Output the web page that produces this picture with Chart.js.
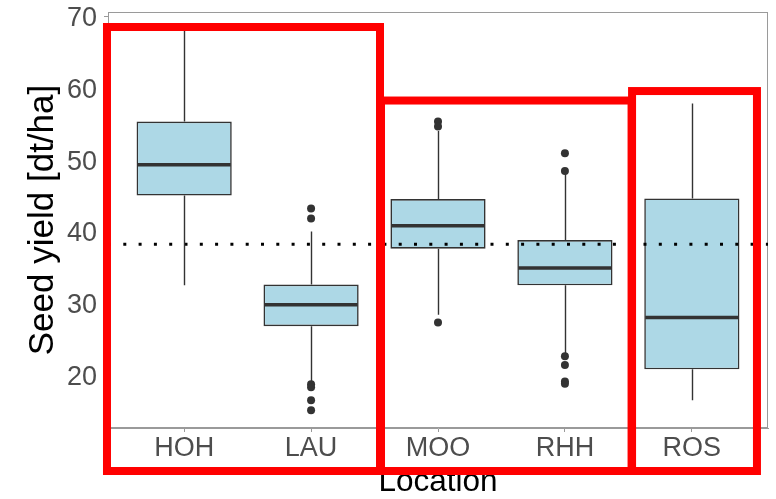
<!DOCTYPE html>
<html>
<head>
<meta charset="utf-8">
<script src="https://cdn.jsdelivr.net/npm/chart.js@4"></script>
<style>
  html, body { margin: 0; padding: 0; background: #fff; }
  #wrap { width: 776px; height: 499px; position: relative; }
</style>
</head>
<body>
<div id="wrap"><canvas id="chart"></canvas></div>
<script>
// Seed yield per location
var locations = ['HOH', 'LAU', 'MOO', 'RHH', 'ROS'];
var whiskerLow = [32.5, 19.0, 28.4, 23.0, 16.5];
var q1 = [45.0, 26.8, 37.6, 32.5, 20.8];
var medians = [49.3, 29.8, 40.8, 34.9, 28.0];
var q3 = [55.3, 32.6, 44.5, 38.8, 44.6];
var whiskerHigh = [68.0, 40.0, 54.0, 48.0, 57.8];

// outliers: location index + value
var outlierLoc = [1, 1, 1, 1, 1, 1, 2, 2, 2, 3, 3, 3, 3, 3, 3];
var outlierValues = [43.2, 41.8, 18.7, 18.3, 16.5, 15.1, 55.3, 54.6, 27.3, 50.9, 48.4, 22.6, 21.4, 19.1, 18.8];

var overallMean = 38.2;
var yTicks = [20, 30, 40, 50, 60, 70];

// highlight frames, in axis units (x: location position, y: yield)
var frameX0 = [0.392, 2.551, 4.529];
var frameX1 = [2.543, 4.525, 5.513];
var frameTop = [68.47, 58.23, 59.55];
var frameBottom = [6.63, 6.63, 6.63];

var INK = '#333333';
var AXIS_GREY = '#9a9a9a';
var FONT = "'Liberation Sans', Arial, sans-serif";

var boxData = locations.map(function (l, i) { return { x: i + 1, y: [q1[i], q3[i]] }; });
var outlierData = outlierLoc.map(function (li, i) { return { x: li + 1, y: outlierValues[i] }; });
var meanData = [{ x: 0.4, y: overallMean }, { x: 5.6, y: overallMean }];

// whiskers, medians, panel border and red frames
var boxplotExtras = {
  id: 'boxplotExtras',
  beforeDatasetsDraw: function (chart) {
    var ctx = chart.ctx, a = chart.chartArea;
    ctx.save();
    ctx.strokeStyle = AXIS_GREY;
    ctx.lineWidth = 1;
    ctx.strokeRect(a.left + 0.5, a.top + 0.5, a.right - a.left - 1, a.bottom - a.top - 1);
    ctx.restore();
  },
  afterDatasetsDraw: function (chart) {
    var ctx = chart.ctx;
    var xs = chart.scales.x, ys = chart.scales.y;
    var bars = chart.getDatasetMeta(2).data;
    ctx.save();
    ctx.strokeStyle = INK;
    for (var i = 0; i < locations.length; i++) {
      var cx = Math.round(xs.getPixelForValue(i + 1)) + 0.5;
      var half = bars[i].width / 2;
      ctx.lineWidth = 1.4;
      ctx.beginPath();
      ctx.moveTo(cx, ys.getPixelForValue(q3[i]));
      ctx.lineTo(cx, ys.getPixelForValue(whiskerHigh[i]));
      ctx.moveTo(cx, ys.getPixelForValue(q1[i]));
      ctx.lineTo(cx, ys.getPixelForValue(whiskerLow[i]));
      ctx.stroke();
      ctx.lineWidth = 3.5;
      ctx.beginPath();
      var my = ys.getPixelForValue(medians[i]);
      ctx.moveTo(bars[i].x - half + 1, my);
      ctx.lineTo(bars[i].x + half - 1, my);
      ctx.stroke();
    }
    ctx.restore();
  },
  afterDraw: function (chart) {
    var ctx = chart.ctx;
    var xs = chart.scales.x, ys = chart.scales.y;
    ctx.save();
    ctx.strokeStyle = '#ff0000';
    ctx.lineWidth = 8;
    for (var i = 0; i < frameX0.length; i++) {
      var x0 = xs.getPixelForValue(frameX0[i]);
      var x1 = xs.getPixelForValue(frameX1[i]);
      var y0 = ys.getPixelForValue(frameTop[i]);
      var y1 = ys.getPixelForValue(frameBottom[i]);
      ctx.strokeRect(x0, y0, x1 - x0, y1 - y0);
    }
    ctx.restore();
  }
};

new Chart(document.getElementById('chart'), {
  type: 'bar',
  data: {
    datasets: [
      {
        type: 'line',
        data: meanData,
        borderColor: '#000',
        borderWidth: 3,
        borderDash: [3, 12.3],
        borderCapStyle: 'butt',
        pointRadius: 0,
        order: 1
      },
      {
        type: 'scatter',
        data: outlierData,
        backgroundColor: INK,
        borderColor: INK,
        pointRadius: 4,
        borderWidth: 0,
        order: 0
      },
      {
        type: 'bar',
        data: boxData,
        backgroundColor: '#add8e6',
        borderColor: INK,
        borderWidth: 1.6,
        borderSkipped: false,
        barPercentage: 0.75,
        categoryPercentage: 1,
        order: 3
      }
    ]
  },
  options: {
    responsive: true,
    maintainAspectRatio: false,
    animation: false,
    layout: { padding: { left: 0, top: 12, right: 8, bottom: 0 } },
    plugins: { legend: { display: false }, tooltip: { enabled: false } },
    scales: {
      x: {
        type: 'linear',
        min: 0.4,
        max: 5.6,
        offset: false,
        afterBuildTicks: function (s) {
          s.ticks = locations.map(function (l, i) { return { value: i + 1 }; });
        },
        afterFit: function (s) { s.height = 71; s.paddingLeft = 0; s.paddingRight = 0; },
        ticks: {
          autoSkip: false,
          maxRotation: 0,
          padding: 0,
          color: '#4d4d4d',
          font: { family: FONT, size: 27, lineHeight: 1.2 },
          callback: function (v) { return locations[v - 1]; }
        },
        grid: { offset: false, drawOnChartArea: false, drawTicks: true, tickLength: 4, color: AXIS_GREY },
        border: { display: true, color: AXIS_GREY },
        title: {
          display: true,
          text: 'Location',
          color: '#000',
          padding: { top: 0, bottom: 0.75 },
          font: { family: FONT, size: 31.5, lineHeight: 1 }
        }
      },
      y: {
        type: 'linear',
        min: 12.62,
        max: 70.56,
        afterBuildTicks: function (s) {
          s.ticks = yTicks.map(function (v) { return { value: v }; });
        },
        afterFit: function (s) { s.width = 108; s.paddingTop = 0; s.paddingBottom = 0; },
        ticks: {
          padding: 7,
          labelOffset: 2.5,
          color: '#4d4d4d',
          font: { family: FONT, size: 27, lineHeight: 1.2 }
        },
        grid: { drawOnChartArea: false, drawTicks: true, tickLength: 4, color: AXIS_GREY },
        border: { display: true, color: AXIS_GREY },
        title: {
          display: true,
          text: 'Seed yield [dt/ha]',
          color: '#000',
          padding: { top: 25.5, bottom: 0 },
          font: { family: FONT, size: 35, lineHeight: 1 }
        }
      }
    }
  },
  plugins: [boxplotExtras]
});
</script>
</body>
</html>
